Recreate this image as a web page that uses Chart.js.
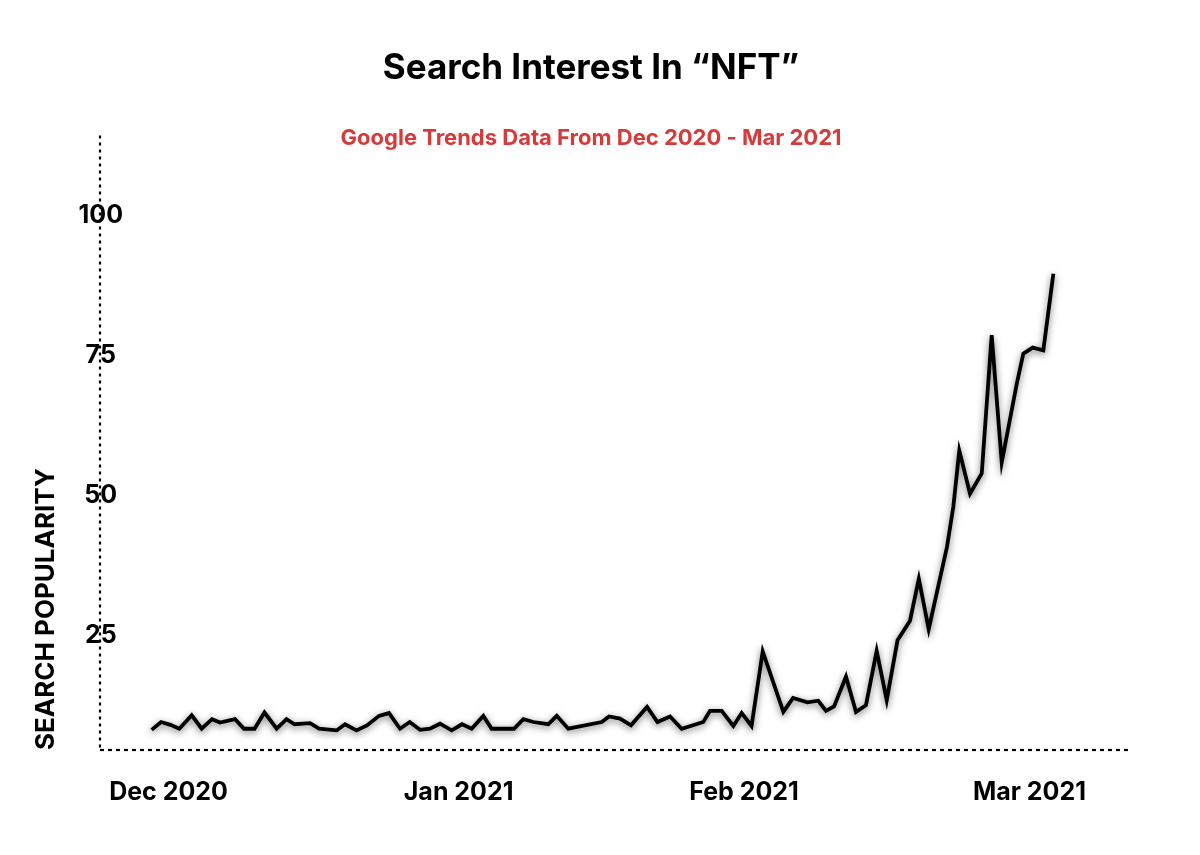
<!DOCTYPE html>
<html>
<head>
<meta charset="utf-8">
<script src="https://cdn.jsdelivr.net/npm/chart.js@4"></script>
<style>
  html, body { margin: 0; padding: 0; background: #ffffff; }
  #wrap { width: 1200px; height: 855px; position: relative; }
</style>
</head>
<body>
<div id="wrap"><canvas id="c"></canvas></div>
<script>
// Days since 1 Dec 2020
const days = [0.0, 1.0, 2.0, 2.95, 4.27, 5.33, 6.43, 7.28, 8.88, 9.84, 10.96, 12.02, 13.32, 14.37, 15.22, 16.87, 17.83, 19.71, 20.6, 21.82, 22.94, 24.22, 25.28, 26.46, 27.49, 28.59, 29.65, 30.72, 31.96, 33.06, 34.09, 35.33, 36.22, 38.6, 39.59, 40.66, 42.25, 43.15, 44.38, 47.94, 48.72, 49.89, 51.06, 52.77, 53.88, 55.22, 56.46, 58.76, 59.48, 60.72, 61.96, 62.85, 63.9, 65.09, 67.29, 68.32, 69.86, 71.01, 71.83, 72.69, 73.96, 75.03, 76.09, 77.23, 78.3, 79.45, 80.78, 81.72, 82.77, 84.72, 85.39, 86.03, 87.17, 88.42, 89.48, 90.55, 92.15, 92.85, 93.85, 94.98, 96.05];
// Search popularity values
const popularity = [8.1, 9.5, 9.0, 8.3, 10.7, 8.3, 10.0, 9.4, 10.0, 8.3, 8.3, 11.2, 8.3, 10.0, 9.1, 9.3, 8.3, 8.0, 9.1, 8.0, 8.9, 10.6, 11.1, 8.3, 9.5, 8.1, 8.3, 9.2, 8.0, 9.1, 8.3, 10.6, 8.3, 8.3, 10.0, 9.5, 9.1, 10.6, 8.3, 9.5, 10.5, 10.1, 8.9, 12.2, 9.5, 10.5, 8.3, 9.5, 11.5, 11.5, 8.8, 11.1, 8.8, 22.1, 11.3, 13.8, 13.0, 13.3, 11.5, 12.3, 17.6, 11.3, 12.5, 22.2, 13.4, 24.1, 27.6, 35.1, 26.1, 40.8, 47.9, 58.0, 50.3, 53.9, 78.6, 55.9, 69.9, 75.3, 76.4, 75.9, 89.6];
// Axis ticks
const monthTickValues = [1.8, 32.7, 63.1, 93.5];
const monthTickLabels = ['Dec 2020', 'Jan 2021', 'Feb 2021', 'Mar 2021'];
const yTickValues = [25, 50, 75, 100];

const points = days.map((d, i) => ({ x: d, y: popularity[i] }));

const FONT = 'Inter, "Noto Sans", sans-serif';

// soft grey halo under the line
const lineShadow = {
  id: 'lineShadow',
  beforeDatasetDraw(chart) {
    const c = chart.ctx;
    c.save();
    c.shadowColor = 'rgba(0,0,0,0.55)';
    c.shadowBlur = 7;
    c.shadowOffsetX = 0;
    c.shadowOffsetY = 2;
  },
  afterDatasetDraw(chart) {
    chart.ctx.restore();
  }
};

// dotted axis lines along the scales' edges
const dottedAxes = {
  id: 'dottedAxes',
  beforeDatasetsDraw(chart) {
    const c = chart.ctx;
    const xs = chart.scales.x, ys = chart.scales.y;
    c.save();
    c.strokeStyle = '#000000';
    c.lineWidth = 2.2;
    c.setLineDash([3, 4]);
    c.beginPath();
    c.moveTo(ys.right, ys.top);
    c.lineTo(ys.right, ys.bottom);
    c.stroke();
    c.setLineDash([4, 4]);
    c.beginPath();
    c.moveTo(xs.left, xs.top);
    c.lineTo(xs.right, xs.top);
    c.stroke();
    c.restore();
  }
};

new Chart(document.getElementById('c'), {
  type: 'line',
  data: {
    datasets: [{
      label: 'Search popularity',
      data: points,
      borderColor: '#000000',
      borderWidth: 3.8,
      borderJoinStyle: 'miter',
      pointRadius: 0,
      tension: 0,
      fill: false
    }]
  },
  options: {
    responsive: true,
    maintainAspectRatio: false,
    animation: false,
    layout: { padding: { left: 54, right: 72, top: 0, bottom: 21 } },
    plugins: {
      legend: { display: false },
      tooltip: { enabled: false },
      title: {
        display: true,
        text: 'Search Interest In “NFT”',
        color: '#000000',
        font: { family: FONT, size: 35, weight: '700' },
        padding: { top: 47.8, bottom: 0 }
      },
      subtitle: {
        display: true,
        text: 'Google Trends Data From Dec 2020 - Mar 2021',
        color: '#d63b3b',
        font: { family: FONT, size: 22, weight: '700' },
        padding: { top: 35, bottom: -15.8 }
      }
    },
    scales: {
      x: {
        type: 'linear',
        min: -5.5,
        max: 104,
        grid: { display: false, drawTicks: false },
        border: { display: false },
        afterBuildTicks: (scale) => {
          scale.ticks = monthTickValues.map(v => ({ value: v }));
        },
        ticks: {
          padding: 27,
          color: '#000000',
          font: { family: FONT, size: 25, weight: '700' },
          maxRotation: 0,
          autoSkip: false,
          callback: (value, index) => monthTickLabels[index]
        }
      },
      y: {
        type: 'linear',
        min: 4.5,
        max: 114.3,
        grid: { display: false, drawTicks: false },
        border: { display: false },
        afterBuildTicks: (scale) => {
          scale.ticks = yTickValues.map(v => ({ value: v }));
        },
        afterFit: (scale) => {
          scale.width = 46;
          // let the labels sit centred over the axis line without being clipped
          scale._computeLabelArea = () => undefined;
        },
        ticks: {
          crossAlign: 'center',
          padding: -23,
          color: '#000000',
          font: { family: FONT, size: 25, weight: '700' },
          callback: (value) => String(value)
        },
        title: {
          display: true,
          text: 'SEARCH POPULARITY',
          align: 'start',
          color: '#000000',
          font: { family: FONT, size: 26, weight: '700' },
          padding: { top: -23, bottom: 0 }
        }
      }
    }
  },
  plugins: [lineShadow, dottedAxes]
});
</script>
</body>
</html>
